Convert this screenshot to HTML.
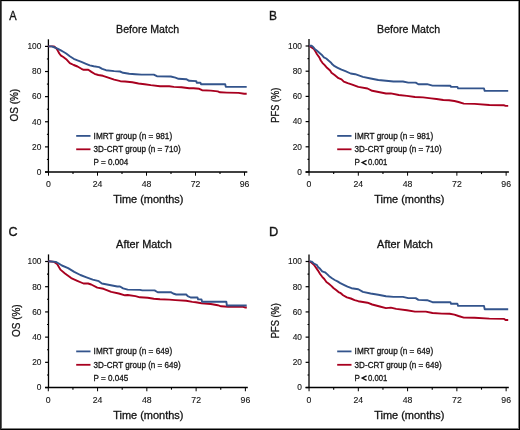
<!DOCTYPE html>
<html><head><meta charset="utf-8"><style>
html,body{margin:0;padding:0;background:#fff;}
body{width:520px;height:430px;overflow:hidden;}
svg{display:block;will-change:transform;}
text{font-family:"Liberation Sans", sans-serif;fill:#141414;stroke:#141414;stroke-width:0.3px;}
.let{font-size:13.5px;stroke-width:0.38px;}
.ttl{font-size:10.6px;}
.yl{font-size:10.75px;}
.xl{font-size:10.7px;}
.tk{font-size:9px;stroke-width:0.12px;}
.lg{font-size:8.9px;}
.lt{font-weight:bold;}
</style></head><body>
<svg width="520" height="430" viewBox="0 0 520 430">
<rect x="0" y="0" width="520" height="430" fill="#fff"/>
<g transform="translate(0,0)">
<text transform="translate(9.30,19.90) scale(0.82,1)" class="let">A</text>
<text x="116.10" y="32.60" class="ttl">Before Match</text>
<text transform="translate(17.9,105.2) rotate(-90) scale(0.93,1)" text-anchor="middle" class="yl">OS (%)</text>
<line x1="48.4" y1="39.30" x2="48.4" y2="172.0" stroke="#000" stroke-width="1.3"/>
<line x1="45.00" y1="172.0" x2="247.3" y2="172.0" stroke="#000" stroke-width="1.5"/>
<line x1="45.00" y1="172.00" x2="48.4" y2="172.00" stroke="#000" stroke-width="1.2"/>
<text transform="translate(41.40,174.80) scale(0.93,1)" class="tk" text-anchor="end">0</text>
<line x1="45.00" y1="146.88" x2="48.4" y2="146.88" stroke="#000" stroke-width="1.2"/>
<text transform="translate(41.40,149.68) scale(0.93,1)" class="tk" text-anchor="end">20</text>
<line x1="45.00" y1="121.76" x2="48.4" y2="121.76" stroke="#000" stroke-width="1.2"/>
<text transform="translate(41.40,124.56) scale(0.93,1)" class="tk" text-anchor="end">40</text>
<line x1="45.00" y1="96.64" x2="48.4" y2="96.64" stroke="#000" stroke-width="1.2"/>
<text transform="translate(41.40,99.44) scale(0.93,1)" class="tk" text-anchor="end">60</text>
<line x1="45.00" y1="71.52" x2="48.4" y2="71.52" stroke="#000" stroke-width="1.2"/>
<text transform="translate(41.40,74.32) scale(0.93,1)" class="tk" text-anchor="end">80</text>
<line x1="45.00" y1="46.40" x2="48.4" y2="46.40" stroke="#000" stroke-width="1.2"/>
<text transform="translate(41.40,49.20) scale(0.93,1)" class="tk" text-anchor="end">100</text>
<line x1="46.90" y1="159.44" x2="48.4" y2="159.44" stroke="#000" stroke-width="1.1"/>
<line x1="46.90" y1="134.32" x2="48.4" y2="134.32" stroke="#000" stroke-width="1.1"/>
<line x1="46.90" y1="109.20" x2="48.4" y2="109.20" stroke="#000" stroke-width="1.1"/>
<line x1="46.90" y1="84.08" x2="48.4" y2="84.08" stroke="#000" stroke-width="1.1"/>
<line x1="46.90" y1="58.96" x2="48.4" y2="58.96" stroke="#000" stroke-width="1.1"/>
<line x1="48.50" y1="172.0" x2="48.50" y2="175.70" stroke="#000" stroke-width="1.0"/>
<text transform="translate(48.50,187.30) scale(0.97,1)" class="tk" text-anchor="middle">0</text>
<line x1="97.50" y1="172.0" x2="97.50" y2="175.70" stroke="#000" stroke-width="1.0"/>
<text transform="translate(97.50,187.30) scale(0.97,1)" class="tk" text-anchor="middle">24</text>
<line x1="146.50" y1="172.0" x2="146.50" y2="175.70" stroke="#000" stroke-width="1.0"/>
<text transform="translate(146.50,187.30) scale(0.97,1)" class="tk" text-anchor="middle">48</text>
<line x1="195.50" y1="172.0" x2="195.50" y2="175.70" stroke="#000" stroke-width="1.0"/>
<text transform="translate(195.50,187.30) scale(0.97,1)" class="tk" text-anchor="middle">72</text>
<line x1="244.50" y1="172.0" x2="244.50" y2="175.70" stroke="#000" stroke-width="1.0"/>
<text transform="translate(244.50,187.30) scale(0.97,1)" class="tk" text-anchor="middle">96</text>
<line x1="73.00" y1="172.0" x2="73.00" y2="174.10" stroke="#000" stroke-width="1.1"/>
<line x1="122.00" y1="172.0" x2="122.00" y2="174.10" stroke="#000" stroke-width="1.1"/>
<line x1="171.00" y1="172.0" x2="171.00" y2="174.10" stroke="#000" stroke-width="1.1"/>
<line x1="220.00" y1="172.0" x2="220.00" y2="174.10" stroke="#000" stroke-width="1.1"/>
<text transform="translate(113.20,202.60) scale(1.025,1)" class="xl">Time (months)</text>
<line x1="76.2" y1="135.9" x2="90.5" y2="135.9" stroke="#33548c" stroke-width="1.8"/>
<line x1="76.2" y1="149.3" x2="90.5" y2="149.3" stroke="#a8001f" stroke-width="1.8"/>
<text transform="translate(93.60,138.60) scale(0.925,1)" class="lg">IMRT group (n = 981)</text>
<text transform="translate(93.60,152.20) scale(0.91,1)" class="lg">3D-CRT group (n = 710)</text>
<text transform="translate(93.60,165.40) scale(0.91,1)" class="lg">P = 0.004</text>
<polyline points="48.4,46.4 52.0,46.4 54.1,46.5 56.0,48.0 57.5,50.1 59.3,53.5 61.0,55.6 63.3,57.0 66.2,59.2 69.8,63.1 73.7,65.0 77.5,66.5 81.4,68.8 83.7,69.8 88.3,69.8 91.4,71.9 94.5,73.8 98.3,75.0 102.9,75.8 106.0,76.9 114.2,79.7 120.4,81.2 125.0,81.5 132.3,82.3 138.5,83.5 144.6,84.2 150.8,85.1 160.0,86.2 169.2,86.3 173.8,86.9 181.5,87.2 189.2,88.2 193.5,88.3 199.2,88.8 202.1,90.2 210.8,90.6 217.7,91.4 220.0,92.3 226.9,92.6 238.5,92.9 244.2,93.7 246.7,93.7" fill="none" stroke="#a8001f" stroke-width="1.9" stroke-linejoin="round"/>
<polyline points="48.4,46.4 51.8,46.4 54.7,47.5 57.5,48.6 60.4,50.1 63.3,51.8 66.2,53.5 69.8,56.2 73.7,58.8 77.5,60.4 81.4,61.9 86.0,63.8 89.8,65.4 93.7,66.3 99.1,67.1 102.2,68.8 106.0,70.2 114.2,71.1 120.0,71.5 123.1,72.8 129.2,73.8 135.4,74.2 141.5,74.6 153.8,74.6 156.9,76.2 170.8,76.5 175.4,77.7 178.5,78.8 186.2,79.2 189.2,80.8 196.3,81.1 196.7,82.7 200.4,82.7 201.0,84.2 225.2,84.2 225.8,86.9 246.7,86.9" fill="none" stroke="#33548c" stroke-width="1.9" stroke-linejoin="round"/>
</g>
<g transform="translate(261,0)">
<text transform="translate(8.00,19.90) scale(0.88,1)" class="let">B</text>
<text x="116.10" y="32.60" class="ttl">Before Match</text>
<text transform="translate(17.9,105.2) rotate(-90) scale(0.86,1)" text-anchor="middle" class="yl">PFS (%)</text>
<line x1="48.0" y1="38.90" x2="48.0" y2="172.0" stroke="#000" stroke-width="1.3"/>
<line x1="44.60" y1="172.0" x2="247.9" y2="172.0" stroke="#000" stroke-width="1.5"/>
<line x1="44.60" y1="172.00" x2="48.0" y2="172.00" stroke="#000" stroke-width="1.2"/>
<text transform="translate(41.00,174.80) scale(0.93,1)" class="tk" text-anchor="end">0</text>
<line x1="44.60" y1="146.80" x2="48.0" y2="146.80" stroke="#000" stroke-width="1.2"/>
<text transform="translate(41.00,149.60) scale(0.93,1)" class="tk" text-anchor="end">20</text>
<line x1="44.60" y1="121.60" x2="48.0" y2="121.60" stroke="#000" stroke-width="1.2"/>
<text transform="translate(41.00,124.40) scale(0.93,1)" class="tk" text-anchor="end">40</text>
<line x1="44.60" y1="96.40" x2="48.0" y2="96.40" stroke="#000" stroke-width="1.2"/>
<text transform="translate(41.00,99.20) scale(0.93,1)" class="tk" text-anchor="end">60</text>
<line x1="44.60" y1="71.20" x2="48.0" y2="71.20" stroke="#000" stroke-width="1.2"/>
<text transform="translate(41.00,74.00) scale(0.93,1)" class="tk" text-anchor="end">80</text>
<line x1="44.60" y1="46.00" x2="48.0" y2="46.00" stroke="#000" stroke-width="1.2"/>
<text transform="translate(41.00,48.80) scale(0.93,1)" class="tk" text-anchor="end">100</text>
<line x1="46.50" y1="159.40" x2="48.0" y2="159.40" stroke="#000" stroke-width="1.1"/>
<line x1="46.50" y1="134.20" x2="48.0" y2="134.20" stroke="#000" stroke-width="1.1"/>
<line x1="46.50" y1="109.00" x2="48.0" y2="109.00" stroke="#000" stroke-width="1.1"/>
<line x1="46.50" y1="83.80" x2="48.0" y2="83.80" stroke="#000" stroke-width="1.1"/>
<line x1="46.50" y1="58.60" x2="48.0" y2="58.60" stroke="#000" stroke-width="1.1"/>
<line x1="48.05" y1="172.0" x2="48.05" y2="175.70" stroke="#000" stroke-width="1.0"/>
<text transform="translate(48.05,187.30) scale(0.97,1)" class="tk" text-anchor="middle">0</text>
<line x1="97.32" y1="172.0" x2="97.32" y2="175.70" stroke="#000" stroke-width="1.0"/>
<text transform="translate(97.32,187.30) scale(0.97,1)" class="tk" text-anchor="middle">24</text>
<line x1="146.59" y1="172.0" x2="146.59" y2="175.70" stroke="#000" stroke-width="1.0"/>
<text transform="translate(146.59,187.30) scale(0.97,1)" class="tk" text-anchor="middle">48</text>
<line x1="195.87" y1="172.0" x2="195.87" y2="175.70" stroke="#000" stroke-width="1.0"/>
<text transform="translate(195.87,187.30) scale(0.97,1)" class="tk" text-anchor="middle">72</text>
<line x1="245.14" y1="172.0" x2="245.14" y2="175.70" stroke="#000" stroke-width="1.0"/>
<text transform="translate(245.14,187.30) scale(0.97,1)" class="tk" text-anchor="middle">96</text>
<line x1="72.69" y1="172.0" x2="72.69" y2="174.10" stroke="#000" stroke-width="1.1"/>
<line x1="121.96" y1="172.0" x2="121.96" y2="174.10" stroke="#000" stroke-width="1.1"/>
<line x1="171.23" y1="172.0" x2="171.23" y2="174.10" stroke="#000" stroke-width="1.1"/>
<line x1="220.50" y1="172.0" x2="220.50" y2="174.10" stroke="#000" stroke-width="1.1"/>
<text transform="translate(113.20,202.60) scale(1.025,1)" class="xl">Time (months)</text>
<line x1="76.2" y1="135.9" x2="90.5" y2="135.9" stroke="#33548c" stroke-width="1.8"/>
<line x1="76.2" y1="149.3" x2="90.5" y2="149.3" stroke="#a8001f" stroke-width="1.8"/>
<text transform="translate(93.60,138.60) scale(0.925,1)" class="lg">IMRT group (n = 981)</text>
<text transform="translate(93.60,152.20) scale(0.91,1)" class="lg">3D-CRT group (n = 710)</text>
<text transform="translate(93.60,165.40) scale(0.91,1)" class="lg">P</text>
<polyline points="105.6,160.4 101.2,162.6 105.6,164.8" fill="none" stroke="#111" stroke-width="1.35"/>
<text transform="translate(107.00,165.40) scale(0.87,1)" class="lg">0.001</text>
<polyline points="48.4,45.8 50.6,47.4 52.9,48.9 54.5,51.6 56.0,54.3 58.3,57.4 59.8,60.5 61.4,62.8 63.7,65.1 66.0,67.8 69.1,70.5 70.5,72.8 73.6,75.1 77.5,78.2 80.5,79.3 82.8,81.6 86.7,83.2 91.2,84.6 97.3,86.9 106.5,88.5 111.2,90.8 118.8,92.3 125.0,93.5 129.8,93.4 137.8,95.0 145.9,95.9 154.0,97.0 162.1,97.4 170.1,98.4 175.5,99.0 182.3,100.0 188.0,100.3 193.4,101.0 197.5,102.0 202.8,103.6 213.6,103.9 228.4,105.0 243.2,105.3 244.6,105.9 247.2,105.9" fill="none" stroke="#a8001f" stroke-width="1.9" stroke-linejoin="round"/>
<polyline points="48.4,45.8 50.6,45.8 52.2,47.0 53.7,48.9 56.0,50.8 58.3,52.8 60.6,54.7 62.9,57.4 65.2,58.5 67.5,60.5 69.8,62.4 71.3,64.3 73.6,66.2 76.7,67.8 80.5,69.7 84.4,71.2 89.6,73.5 94.2,74.2 101.9,76.9 109.6,78.5 117.3,80.0 125.0,80.8 132.5,81.5 141.9,81.5 147.3,82.6 154.7,82.6 157.4,84.2 166.1,84.2 171.5,85.6 189.4,85.7 190.1,86.9 196.4,86.9 197.1,88.4 223.0,88.4 223.7,90.9 247.2,90.9" fill="none" stroke="#33548c" stroke-width="1.9" stroke-linejoin="round"/>
</g>
<g transform="translate(0,215.5)">
<text transform="translate(8.50,20.50) scale(0.93,1)" class="let">C</text>
<text transform="translate(116.10,32.60) scale(1.03,1)" class="ttl">After Match</text>
<text transform="translate(19.7,105.2) rotate(-90) scale(0.93,1)" text-anchor="middle" class="yl">OS (%)</text>
<line x1="48.5" y1="38.90" x2="48.5" y2="172.05" stroke="#000" stroke-width="1.3"/>
<line x1="45.10" y1="172.05" x2="247.8" y2="172.05" stroke="#000" stroke-width="1.5"/>
<line x1="45.10" y1="172.05" x2="48.5" y2="172.05" stroke="#000" stroke-width="1.2"/>
<text transform="translate(41.50,174.85) scale(0.93,1)" class="tk" text-anchor="end">0</text>
<line x1="45.10" y1="146.84" x2="48.5" y2="146.84" stroke="#000" stroke-width="1.2"/>
<text transform="translate(41.50,149.64) scale(0.93,1)" class="tk" text-anchor="end">20</text>
<line x1="45.10" y1="121.63" x2="48.5" y2="121.63" stroke="#000" stroke-width="1.2"/>
<text transform="translate(41.50,124.43) scale(0.93,1)" class="tk" text-anchor="end">40</text>
<line x1="45.10" y1="96.42" x2="48.5" y2="96.42" stroke="#000" stroke-width="1.2"/>
<text transform="translate(41.50,99.22) scale(0.93,1)" class="tk" text-anchor="end">60</text>
<line x1="45.10" y1="71.21" x2="48.5" y2="71.21" stroke="#000" stroke-width="1.2"/>
<text transform="translate(41.50,74.01) scale(0.93,1)" class="tk" text-anchor="end">80</text>
<line x1="45.10" y1="46.00" x2="48.5" y2="46.00" stroke="#000" stroke-width="1.2"/>
<text transform="translate(41.50,48.80) scale(0.93,1)" class="tk" text-anchor="end">100</text>
<line x1="47.00" y1="159.45" x2="48.5" y2="159.45" stroke="#000" stroke-width="1.1"/>
<line x1="47.00" y1="134.24" x2="48.5" y2="134.24" stroke="#000" stroke-width="1.1"/>
<line x1="47.00" y1="109.03" x2="48.5" y2="109.03" stroke="#000" stroke-width="1.1"/>
<line x1="47.00" y1="83.82" x2="48.5" y2="83.82" stroke="#000" stroke-width="1.1"/>
<line x1="47.00" y1="58.60" x2="48.5" y2="58.60" stroke="#000" stroke-width="1.1"/>
<line x1="48.30" y1="172.05" x2="48.30" y2="175.75" stroke="#000" stroke-width="1.0"/>
<text transform="translate(48.30,187.35) scale(0.97,1)" class="tk" text-anchor="middle">0</text>
<line x1="97.57" y1="172.05" x2="97.57" y2="175.75" stroke="#000" stroke-width="1.0"/>
<text transform="translate(97.57,187.35) scale(0.97,1)" class="tk" text-anchor="middle">24</text>
<line x1="146.84" y1="172.05" x2="146.84" y2="175.75" stroke="#000" stroke-width="1.0"/>
<text transform="translate(146.84,187.35) scale(0.97,1)" class="tk" text-anchor="middle">48</text>
<line x1="196.12" y1="172.05" x2="196.12" y2="175.75" stroke="#000" stroke-width="1.0"/>
<text transform="translate(196.12,187.35) scale(0.97,1)" class="tk" text-anchor="middle">72</text>
<line x1="245.39" y1="172.05" x2="245.39" y2="175.75" stroke="#000" stroke-width="1.0"/>
<text transform="translate(245.39,187.35) scale(0.97,1)" class="tk" text-anchor="middle">96</text>
<line x1="72.94" y1="172.05" x2="72.94" y2="174.15" stroke="#000" stroke-width="1.1"/>
<line x1="122.21" y1="172.05" x2="122.21" y2="174.15" stroke="#000" stroke-width="1.1"/>
<line x1="171.48" y1="172.05" x2="171.48" y2="174.15" stroke="#000" stroke-width="1.1"/>
<line x1="220.75" y1="172.05" x2="220.75" y2="174.15" stroke="#000" stroke-width="1.1"/>
<text transform="translate(113.20,203.10) scale(1.025,1)" class="xl">Time (months)</text>
<line x1="76.2" y1="135.9" x2="90.5" y2="135.9" stroke="#33548c" stroke-width="1.8"/>
<line x1="76.2" y1="149.3" x2="90.5" y2="149.3" stroke="#a8001f" stroke-width="1.8"/>
<text transform="translate(93.60,138.60) scale(0.925,1)" class="lg">IMRT group (n = 649)</text>
<text transform="translate(93.60,152.20) scale(0.91,1)" class="lg">3D-CRT group (n = 649)</text>
<text transform="translate(93.60,165.40) scale(0.91,1)" class="lg">P = 0.045</text>
<polyline points="48.4,45.7 54.2,46.4 57.3,48.7 60.4,54.1 65.0,58.0 71.2,62.6 77.3,65.3 83.5,68.0 88.1,68.0 91.2,69.0 97.3,72.1 103.5,73.3 111.2,76.4 118.8,78.0 125.0,79.8 127.7,79.5 135.4,80.6 140.0,81.8 147.7,82.3 153.8,83.3 160.0,83.8 169.2,84.1 175.4,84.6 186.2,85.3 192.3,86.4 195.8,86.8 201.5,87.7 210.8,88.5 217.7,89.7 221.1,90.8 228.1,91.2 243.1,91.4 245.4,92.0 246.8,92.0" fill="none" stroke="#a8001f" stroke-width="1.9" stroke-linejoin="round"/>
<polyline points="48.4,45.7 55.8,46.4 58.8,48.0 61.9,50.0 68.1,52.6 74.2,56.4 80.4,59.5 86.5,61.8 92.7,64.1 98.8,65.7 101.9,68.0 109.6,69.5 117.3,71.0 120.0,71.0 123.1,72.9 127.7,74.1 140.0,74.4 142.3,74.9 154.6,74.9 157.7,76.7 170.8,76.7 173.1,78.0 176.2,79.0 186.2,79.0 187.7,80.6 190.6,82.0 197.5,82.0 198.1,83.9 201.5,83.9 202.1,86.2 226.3,86.2 226.9,90.0 246.7,90.0" fill="none" stroke="#33548c" stroke-width="1.9" stroke-linejoin="round"/>
</g>
<g transform="translate(261,215.5)">
<text transform="translate(8.00,20.40) scale(0.95,1)" class="let">D</text>
<text transform="translate(116.10,32.60) scale(1.03,1)" class="ttl">After Match</text>
<text transform="translate(17.9,105.2) rotate(-90) scale(0.86,1)" text-anchor="middle" class="yl">PFS (%)</text>
<line x1="48.0" y1="38.90" x2="48.0" y2="172.05" stroke="#000" stroke-width="1.3"/>
<line x1="44.60" y1="172.05" x2="247.8" y2="172.05" stroke="#000" stroke-width="1.5"/>
<line x1="44.60" y1="172.05" x2="48.0" y2="172.05" stroke="#000" stroke-width="1.2"/>
<text transform="translate(41.00,174.85) scale(0.93,1)" class="tk" text-anchor="end">0</text>
<line x1="44.60" y1="146.84" x2="48.0" y2="146.84" stroke="#000" stroke-width="1.2"/>
<text transform="translate(41.00,149.64) scale(0.93,1)" class="tk" text-anchor="end">20</text>
<line x1="44.60" y1="121.63" x2="48.0" y2="121.63" stroke="#000" stroke-width="1.2"/>
<text transform="translate(41.00,124.43) scale(0.93,1)" class="tk" text-anchor="end">40</text>
<line x1="44.60" y1="96.42" x2="48.0" y2="96.42" stroke="#000" stroke-width="1.2"/>
<text transform="translate(41.00,99.22) scale(0.93,1)" class="tk" text-anchor="end">60</text>
<line x1="44.60" y1="71.21" x2="48.0" y2="71.21" stroke="#000" stroke-width="1.2"/>
<text transform="translate(41.00,74.01) scale(0.93,1)" class="tk" text-anchor="end">80</text>
<line x1="44.60" y1="46.00" x2="48.0" y2="46.00" stroke="#000" stroke-width="1.2"/>
<text transform="translate(41.00,48.80) scale(0.93,1)" class="tk" text-anchor="end">100</text>
<line x1="46.50" y1="159.45" x2="48.0" y2="159.45" stroke="#000" stroke-width="1.1"/>
<line x1="46.50" y1="134.24" x2="48.0" y2="134.24" stroke="#000" stroke-width="1.1"/>
<line x1="46.50" y1="109.03" x2="48.0" y2="109.03" stroke="#000" stroke-width="1.1"/>
<line x1="46.50" y1="83.82" x2="48.0" y2="83.82" stroke="#000" stroke-width="1.1"/>
<line x1="46.50" y1="58.60" x2="48.0" y2="58.60" stroke="#000" stroke-width="1.1"/>
<line x1="48.05" y1="172.05" x2="48.05" y2="175.75" stroke="#000" stroke-width="1.0"/>
<text transform="translate(48.05,187.35) scale(0.97,1)" class="tk" text-anchor="middle">0</text>
<line x1="97.32" y1="172.05" x2="97.32" y2="175.75" stroke="#000" stroke-width="1.0"/>
<text transform="translate(97.32,187.35) scale(0.97,1)" class="tk" text-anchor="middle">24</text>
<line x1="146.59" y1="172.05" x2="146.59" y2="175.75" stroke="#000" stroke-width="1.0"/>
<text transform="translate(146.59,187.35) scale(0.97,1)" class="tk" text-anchor="middle">48</text>
<line x1="195.87" y1="172.05" x2="195.87" y2="175.75" stroke="#000" stroke-width="1.0"/>
<text transform="translate(195.87,187.35) scale(0.97,1)" class="tk" text-anchor="middle">72</text>
<line x1="245.14" y1="172.05" x2="245.14" y2="175.75" stroke="#000" stroke-width="1.0"/>
<text transform="translate(245.14,187.35) scale(0.97,1)" class="tk" text-anchor="middle">96</text>
<line x1="72.69" y1="172.05" x2="72.69" y2="174.15" stroke="#000" stroke-width="1.1"/>
<line x1="121.96" y1="172.05" x2="121.96" y2="174.15" stroke="#000" stroke-width="1.1"/>
<line x1="171.23" y1="172.05" x2="171.23" y2="174.15" stroke="#000" stroke-width="1.1"/>
<line x1="220.50" y1="172.05" x2="220.50" y2="174.15" stroke="#000" stroke-width="1.1"/>
<text transform="translate(113.20,203.10) scale(1.025,1)" class="xl">Time (months)</text>
<line x1="76.2" y1="135.9" x2="90.5" y2="135.9" stroke="#33548c" stroke-width="1.8"/>
<line x1="76.2" y1="149.3" x2="90.5" y2="149.3" stroke="#a8001f" stroke-width="1.8"/>
<text transform="translate(93.60,138.60) scale(0.925,1)" class="lg">IMRT group (n = 649)</text>
<text transform="translate(93.60,152.20) scale(0.91,1)" class="lg">3D-CRT group (n = 649)</text>
<text transform="translate(93.60,165.40) scale(0.91,1)" class="lg">P</text>
<polyline points="105.6,160.4 101.2,162.6 105.6,164.8" fill="none" stroke="#111" stroke-width="1.35"/>
<text transform="translate(107.00,165.40) scale(0.87,1)" class="lg">0.001</text>
<polyline points="48.4,45.8 50.6,47.3 52.9,49.2 54.5,51.5 57.0,55.1 59.1,58.5 61.2,61.3 63.3,63.5 65.4,66.5 67.5,68.0 70.3,70.4 72.4,72.5 75.1,74.6 77.5,76.6 79.8,77.7 82.1,79.7 85.9,81.9 89.8,83.0 93.6,84.6 97.3,85.7 106.5,87.2 111.2,89.0 118.8,91.0 125.0,92.6 129.8,92.1 135.2,93.4 145.9,94.8 154.0,96.1 164.8,96.1 171.5,97.5 180.9,98.1 188.7,98.2 193.4,99.1 197.5,100.5 202.8,102.1 213.6,102.2 228.4,103.1 243.2,103.4 244.6,104.5 247.2,104.5" fill="none" stroke="#a8001f" stroke-width="1.9" stroke-linejoin="round"/>
<polyline points="48.4,45.8 50.6,46.1 52.9,48.0 56.0,49.6 57.0,51.6 59.1,53.3 61.2,55.8 64.0,56.8 66.1,58.6 68.2,60.7 71.0,62.8 73.7,64.5 76.5,65.9 79.3,67.6 82.8,69.3 86.5,71.1 90.5,72.7 97.3,73.7 101.9,76.4 109.6,78.0 117.3,79.2 125.0,80.7 132.5,81.4 141.9,81.4 147.3,82.6 154.7,82.6 157.4,84.4 166.1,84.7 171.5,86.7 189.4,86.7 190.1,88.3 196.4,88.3 197.1,90.4 223.0,90.4 223.7,93.7 247.2,93.7" fill="none" stroke="#33548c" stroke-width="1.9" stroke-linejoin="round"/>
</g>
<g shape-rendering="crispEdges">
<rect x="0" y="1" width="520" height="1" fill="#d8d8d8"/>
<rect x="0" y="428" width="520" height="1" fill="#808080"/>
<rect x="518" y="0" width="1" height="430" fill="#808080"/>
<rect x="1" y="0" width="1" height="430" fill="#5e5e5e"/>
<rect x="0" y="0" width="520" height="1" fill="#000"/>
<rect x="0" y="429" width="520" height="1" fill="#000"/>
<rect x="0" y="0" width="1" height="430" fill="#1c1c1c"/>
<rect x="519" y="0" width="1" height="430" fill="#000"/>
</g>
</svg>
</body></html>
